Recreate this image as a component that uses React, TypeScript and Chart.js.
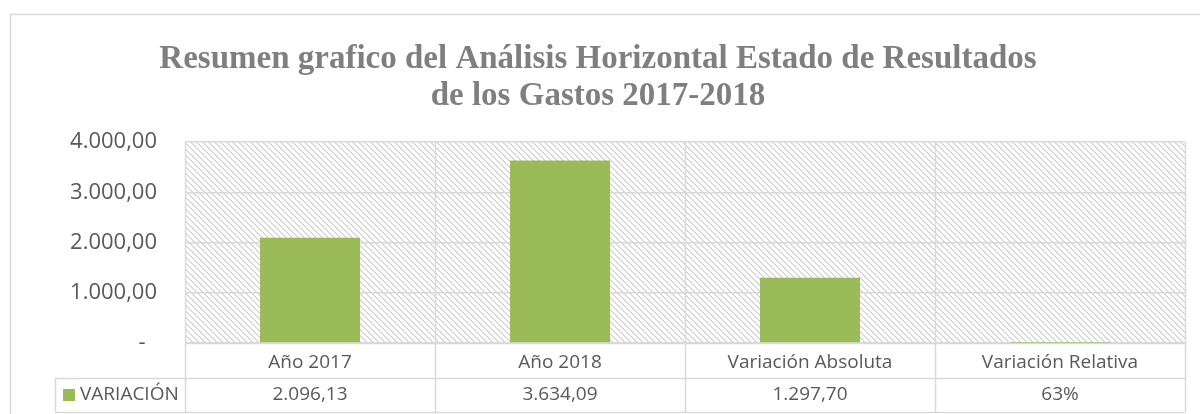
import { useEffect, useRef } from 'react';
import { Chart, registerables } from 'chart.js';

Chart.register(...registerables);

const titleLines = [
  'Resumen grafico del Análisis Horizontal Estado de Resultados',
  'de los Gastos 2017-2018',
];
const categories = ['Año 2017', 'Año 2018', 'Variación Absoluta', 'Variación Relativa'];
const seriesName = 'VARIACIÓN';
const values = [2096.13, 3634.09, 1297.7, 0.63];
const valueFormats = ['number', 'number', 'number', 'percent'];
const yTickValues = [0, 1000, 2000, 3000, 4000];

const TEXT = '#595959';
const GRID = '#d9d9d9';
const BAR = '#9bbb59';
const SANS = '"Open Sans", "Noto Sans", sans-serif';

function fmtNum(v: number): string {
  const [i, d] = v.toFixed(2).split('.');
  return i.replace(/\B(?=(\d{3})+(?!\d))/g, '.') + ',' + d;
}
function fmtValue(v: number, kind: string): string {
  if (kind === 'percent') return Math.round(v * 100) + '%';
  return fmtNum(v);
}

function makePattern(): CanvasPattern | string {
  const c = document.createElement('canvas');
  const n = 6;
  c.width = n;
  c.height = n;
  const g = c.getContext('2d');
  if (!g) return '#f2f2f2';
  g.fillStyle = '#ffffff';
  g.fillRect(0, 0, n, n);
  g.fillStyle = '#d9d9d9';
  for (let y = 0; y < n; y++) {
    g.fillRect(y % n, y, 1, 1);
    g.fillRect((y + 1) % n, y, 1, 1);
  }
  const p = g.createPattern(c, 'repeat');
  return p || '#f2f2f2';
}

const ROW_H = 34;
const LEGEND_LEFT = 55;

export default function App() {
  const ref = useRef<HTMLCanvasElement | null>(null);

  useEffect(() => {
    if (!ref.current) return;
    const pattern = makePattern();

    const framePlugin = {
      id: 'frameAndTable',
      beforeDraw(chart: any) {
        const { ctx, chartArea: a } = chart;
        ctx.save();
        ctx.fillStyle = '#ffffff';
        ctx.fillRect(0, 0, chart.width, chart.height);
        ctx.strokeStyle = GRID;
        ctx.lineWidth = 1.5;
        ctx.strokeRect(10.5, 14.5, chart.width, chart.height);
        ctx.fillStyle = pattern;
        ctx.fillRect(a.left, a.top, a.right - a.left, a.bottom - a.top);
        ctx.restore();
      },
      afterDraw(chart: any) {
        const { ctx, chartArea: a } = chart;
        const xs = chart.scales.x;
        const rowMid = xs.bottom;
        const rowBot = rowMid + ROW_H;
        const n = categories.length;
        const w = xs.getPixelForValue(1) - xs.getPixelForValue(0);
        ctx.save();
        ctx.strokeStyle = GRID;
        ctx.lineWidth = 1.5;
        ctx.beginPath();
        ctx.moveTo(a.left, a.bottom + 0.5);
        ctx.lineTo(a.right, a.bottom + 0.5);
        ctx.moveTo(LEGEND_LEFT, rowMid + 0.5);
        ctx.lineTo(a.right, rowMid + 0.5);
        ctx.moveTo(LEGEND_LEFT, rowBot + 0.5);
        ctx.lineTo(a.right, rowBot + 0.5);
        for (let i = 0; i <= n; i++) {
          const x = Math.round(xs.getPixelForValue(0) - w / 2 + i * w) + 0.5;
          ctx.moveTo(x, a.top);
          ctx.lineTo(x, rowBot);
        }
        ctx.moveTo(LEGEND_LEFT + 0.5, rowMid);
        ctx.lineTo(LEGEND_LEFT + 0.5, rowBot);
        ctx.stroke();

        const cy = (rowMid + rowBot) / 2;
        ctx.fillStyle = BAR;
        ctx.fillRect(LEGEND_LEFT + 8, cy - 6, 12, 12);
        ctx.fillStyle = TEXT;
        ctx.font = '19px ' + SANS;
        ctx.textBaseline = 'middle';
        ctx.textAlign = 'left';
        ctx.fillText(seriesName, LEGEND_LEFT + 25, cy);
        ctx.textAlign = 'center';
        values.forEach((v, i) => {
          ctx.fillText(fmtValue(v, valueFormats[i]), xs.getPixelForValue(i), cy);
        });
        ctx.restore();
      },
    };

    const chart = new Chart(ref.current, {
      type: 'bar',
      data: {
        labels: categories,
        datasets: [
          {
            label: seriesName,
            data: values,
            backgroundColor: BAR,
            borderWidth: 0,
            inflateAmount: 0,
            barPercentage: 0.4,
            categoryPercentage: 1,
          },
        ],
      },
      options: {
        responsive: false,
        animation: false,
        layout: { padding: { left: 11, right: 15, top: 0, bottom: ROW_H + 2 } },
        plugins: {
          legend: { display: false },
          tooltip: { enabled: false },
          title: {
            display: true,
            text: titleLines,
            color: '#7f7f7f',
            font: { family: '"Liberation Serif", serif', size: 33, weight: 'bold', lineHeight: 37 / 33 },
            padding: { top: 41, bottom: 27 },
          },
        },
        scales: {
          x: {
            grid: { display: false },
            border: { display: false },
            ticks: {
              color: TEXT,
              font: { family: SANS, size: 19 },
              padding: 0,
              maxRotation: 0,
              autoSkip: false,
            },
            afterFit: (s: any) => {
              s.height = 35;
            },
          },
          y: {
            min: 0,
            max: 4000,
            afterBuildTicks: (s: any) => {
              s.ticks = yTickValues.map((v) => ({ value: v }));
            },
            grid: { color: GRID, lineWidth: 1.5, drawTicks: false },
            border: { display: false },
            ticks: {
              color: TEXT,
              font: { family: SANS, size: 22 },
              padding: 28,
              callback: (v: any) => (Number(v) === 0 ? '-  ' : fmtNum(Number(v))),
            },
            afterFit: (s: any) => {
              s.width = 174;
            },
          },
        },
      },
      plugins: [framePlugin],
    });
    return () => chart.destroy();
  }, []);

  return (
    <div style={{ position: 'absolute', left: 0, top: 0, width: 1200, height: 414 }}>
      <canvas ref={ref} width={1200} height={414} />
    </div>
  );
}
